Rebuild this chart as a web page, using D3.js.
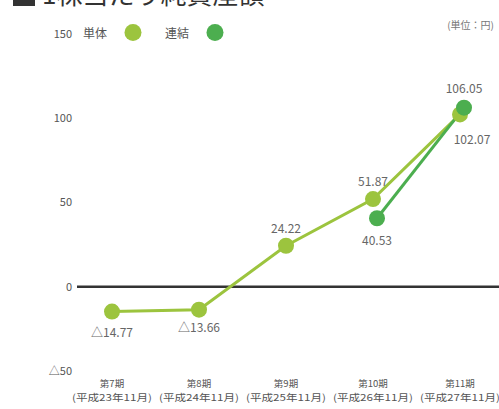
<!DOCTYPE html>
<html>
<head>
<meta charset="utf-8">
<script src="https://cdn.jsdelivr.net/npm/d3@7"></script>
<style>
  body { margin: 0; background: #fff; }
  text { font-family: "Noto Sans CJK JP", "Noto Sans", sans-serif; }
</style>
</head>
<body>
<div id="chart"></div>
<script>
// data
var periods = ["第7期", "第8期", "第9期", "第10期", "第11期"];
var periodDates = ["(平成23年11月)", "(平成24年11月)", "(平成25年11月)", "(平成26年11月)", "(平成27年11月)"];
var tantai = [-14.77, -13.66, 24.22, 51.87, 102.07];
var renketsu = [null, null, null, 40.53, 106.05];
var yTicks = [-50, 0, 50, 100, 150];

var width = 499, height = 409;
var lightGreen = "#9cc43e", darkGreen = "#4cae4f";

var svg = d3.select("#chart")
  .append("svg")
    .attr("width", width)
    .attr("height", height);

var xScale = d3.scalePoint()
    .domain(periods)
    .range([112, 460]);

var yScale = d3.scaleLinear()
    .domain([-50, 150])
    .range([371, 33.5]);

var fmt = function(v) {
    return (v < 0 ? "△" : "") + Math.abs(v).toFixed(2);
};

// title (cut off at top)
svg.append("rect")
    .attr("x", 13).attr("y", -14)
    .attr("width", 22).attr("height", 20)
    .style("fill", "#333");
svg.append("text")
    .attr("x", 42).attr("y", 4)
    .style("font-size", "26px")
    .style("fill", "#333")
    .text("1株当たり純資産額");

// unit
svg.append("text")
    .attr("x", 494).attr("y", 29)
    .attr("text-anchor", "end")
    .style("font-size", "10px")
    .style("fill", "#777")
    .text("(単位：円)");

// y tick labels
svg.selectAll(".ytick")
    .data(yTicks)
    .enter()
    .append("text")
    .attr("class", "ytick")
    .attr("x", 72)
    .attr("y", d => yScale(d) + 4)
    .attr("text-anchor", "end")
    .style("font-size", "11px")
    .style("fill", "#555")
    .text(d => d < 0 ? "△" + Math.abs(d) : d);

// zero line
svg.append("line")
    .attr("x1", 77).attr("x2", width)
    .attr("y1", yScale(0)).attr("y2", yScale(0))
    .style("stroke", "#333")
    .style("stroke-width", 2.5);

// legend
var legend = [
    {label: "単体", color: lightGreen, x: 83},
    {label: "連結", color: darkGreen, x: 165}
];
legend.forEach(function(l) {
    svg.append("text")
        .attr("x", l.x).attr("y", yScale(150) + 4)
        .style("font-size", "12px")
        .style("fill", "#555")
        .text(l.label);
    svg.append("circle")
        .attr("cx", l.x + 50).attr("cy", yScale(150) - 1)
        .attr("r", 8.5)
        .style("fill", l.color);
});

// x labels
var xl = svg.selectAll(".xlab")
    .data(periods)
    .enter()
    .append("g")
    .attr("class", "xlab")
    .attr("transform", d => "translate(" + xScale(d) + ",0)");
xl.append("text")
    .attr("y", 387)
    .attr("text-anchor", "middle")
    .style("font-size", "9.5px")
    .style("fill", "#555")
    .text(d => d);
xl.append("text")
    .attr("y", 401)
    .attr("text-anchor", "middle")
    .style("font-size", "9.5px")
    .style("fill", "#555")
    .attr("textLength", 80)
    .attr("lengthAdjust", "spacingAndGlyphs")
    .text((d, i) => periodDates[i]);

// series
var tantaiData = periods.map((p, i) => ({p: p, v: tantai[i]}));
var renketsuData = periods.map((p, i) => ({p: p, v: renketsu[i]})).filter(d => d.v !== null);

var line = function(dx) {
    return d3.line()
        .x(d => xScale(d.p) + dx)
        .y(d => yScale(d.v));
};

svg.append("path")
    .datum(tantaiData)
    .attr("d", line(0))
    .style("fill", "none")
    .style("stroke", lightGreen)
    .style("stroke-width", 3);

svg.append("path")
    .datum(renketsuData)
    .attr("d", line(4))
    .style("fill", "none")
    .style("stroke", darkGreen)
    .style("stroke-width", 3);

svg.selectAll(".pt1")
    .data(tantaiData)
    .enter()
    .append("circle")
    .attr("cx", d => xScale(d.p))
    .attr("cy", d => yScale(d.v))
    .attr("r", 8)
    .style("fill", lightGreen);

svg.selectAll(".pt2")
    .data(renketsuData)
    .enter()
    .append("circle")
    .attr("cx", d => xScale(d.p) + 4)
    .attr("cy", d => yScale(d.v))
    .attr("r", 8)
    .style("fill", darkGreen);

// value labels: dx, dy relative to point
var tantaiLabelOffset = [[0, 25], [0, 22], [0, -13], [0, -13], [12, 30]];
var renketsuLabelOffset = {"第10期": [0, 27], "第11期": [0, -15]};

svg.selectAll(".lab1")
    .data(tantaiData)
    .enter()
    .append("text")
    .attr("x", (d, i) => xScale(d.p) + tantaiLabelOffset[i][0])
    .attr("y", (d, i) => yScale(d.v) + tantaiLabelOffset[i][1])
    .attr("text-anchor", "middle")
    .style("font-size", "12px")
    .style("fill", "#666")
    .text(d => fmt(d.v));

svg.selectAll(".lab2")
    .data(renketsuData)
    .enter()
    .append("text")
    .attr("x", d => xScale(d.p) + 4 + renketsuLabelOffset[d.p][0])
    .attr("y", d => yScale(d.v) + renketsuLabelOffset[d.p][1])
    .attr("text-anchor", "middle")
    .style("font-size", "12px")
    .style("fill", "#666")
    .text(d => fmt(d.v));
</script>
</body>
</html>
